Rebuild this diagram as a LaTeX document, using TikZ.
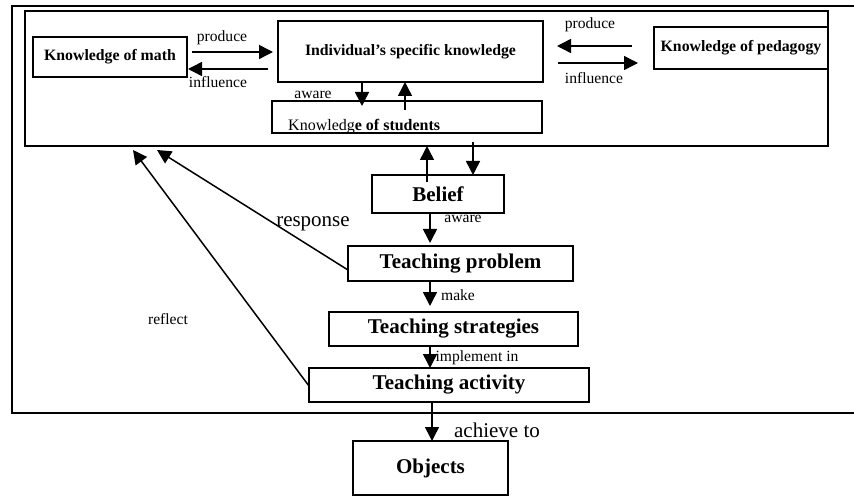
\documentclass[tikz,border=0pt]{standalone}
\usepackage{fontspec}
\setmainfont{Liberation Serif}
\usetikzlibrary{arrows.meta,calc,positioning}

\begin{document}
\begin{tikzpicture}[x=1pt,y=-1pt,
    box/.style={draw,line width=1.6pt,inner sep=0pt,outer sep=0pt},
    kbox/.style={box,font=\fontsize{15.8}{18}\selectfont\bfseries},
    bigbox/.style={box,font=\fontsize{21}{24}\selectfont\bfseries},
    lbl/.style={inner sep=0pt,font=\fontsize{15.6}{18}\selectfont},
    biglbl/.style={inner sep=0pt,font=\fontsize{21}{24}\selectfont},
    arr/.style={line width=1.5pt,-{Triangle[length=14pt,width=14pt]}}]
  \useasboundingbox (0,0) rectangle (854,497);
  % outer frame, open on the right
  \draw[line width=1.6pt] (854,6) -- (12,6) -- (12,413) -- (854,413);
  % knowledge part
  \node[box,minimum width=803pt,minimum height=135pt] (know) at (426.5,78.5) {};
  \node[kbox,minimum width=154pt,minimum height=40pt] (math) at (110,57) {Knowledge of math};
  \node[kbox,minimum width=265pt,minimum height=61pt] (ind) at (410.5,51.5) {Individual's specific knowledge};
  \node[kbox,minimum width=174pt,minimum height=42pt] (ped) at (741,48) {Knowledge of pedagogy};
  \node[box,minimum width=270pt,minimum height=32pt] (stu) at (407,117) {};
  \node[lbl,font=\fontsize{16}{18}\selectfont,anchor=base west] (stutxt) at (288,131) {Knowledg\textbf{e of students}};
  \draw[arr] ($(math.east)+(5,-5)$) -- ($(ind.west)+(-5,0.5)$);
  \draw[arr] ($(ind.west)+(-10,17.5)$) -- ($(math.east)+(1,12)$);
  \draw[arr] ($(ped.west)+(-22,-2)$) -- ($(ind.east)+(14,-5.5)$);
  \draw[arr] ($(ind.east)+(15,11.5)$) -- ($(ped.west)+(-16,15)$);
  \draw[arr] ($(ind.south)+(-48.5,0)$) -- ($(stu.north)+(-45,5)$);
  \draw[arr] ($(stu.north)+(-2,9)$) -- ($(ind.south)+(-5.5,0)$);
  \node[lbl] (prod1) at (222,38) {produce};
  \node[lbl] (infl1) at (218,82) {influence};
  \node[lbl] (prod2) at (590,25) {produce};
  \node[lbl] (infl2) at (594,78) {influence};
  \node[lbl] (aware1) at (313,95) {aware};
  % the chain below
  \node[bigbox,minimum width=132pt,minimum height=38pt] (belief) at (438,194) {Belief};
  \node[bigbox,minimum width=225pt,minimum height=35pt] (tp) at (460.5,263.5) {Teaching problem};
  \node[bigbox,minimum width=249pt,minimum height=34pt] (ts) at (453.5,329) {Teaching strategies};
  \node[bigbox,minimum width=280pt,minimum height=34pt] (ta) at (449,385) {Teaching activity};
  \node[bigbox,minimum width=155pt,minimum height=54pt] (obj) at (430.5,468) {Objects};
  \draw[arr] ($(belief.north)+(-11,7)$) -- ($(know.south)+(0.5,0)$);
  \draw[arr] ($(know.south)+(46.5,-4)$) -- ($(belief.north)+(35,0)$);
  \draw[arr] ($(belief.south)+(-8,0)$) -- ($(tp.north)+(-30.5,-3)$);
  \draw[arr] ($(tp.south)+(-30.5,0)$) -- ($(ts.north)+(-23.5,-6)$);
  \draw[arr] ($(ts.south)+(-23.5,0)$) -- ($(ta.north)+(-19,0)$);
  \draw[arr] ($(ta.south)+(-17,0)$) -- ($(obj.north)+(1.5,0)$);
  \draw[arr] ($(tp.west)+(0,6.5)$) -- ($(know.south west)+(132,4)$);
  \draw[arr] ($(ta.west)+(0,1)$) -- ($(know.south west)+(108,4)$);
  \node[lbl] (aware2) at (463,219) {aware};
  \node[lbl] (make) at (458,295) {make};
  \node[lbl] (impl) at (477,358) {implement in};
  \node[biglbl] (achieve) at (497,430) {achieve to};
  \node[biglbl] (resp) at (313,224) {response};
  \node[lbl] (refl) at (168,319) {reflect};
\end{tikzpicture}
\end{document}
